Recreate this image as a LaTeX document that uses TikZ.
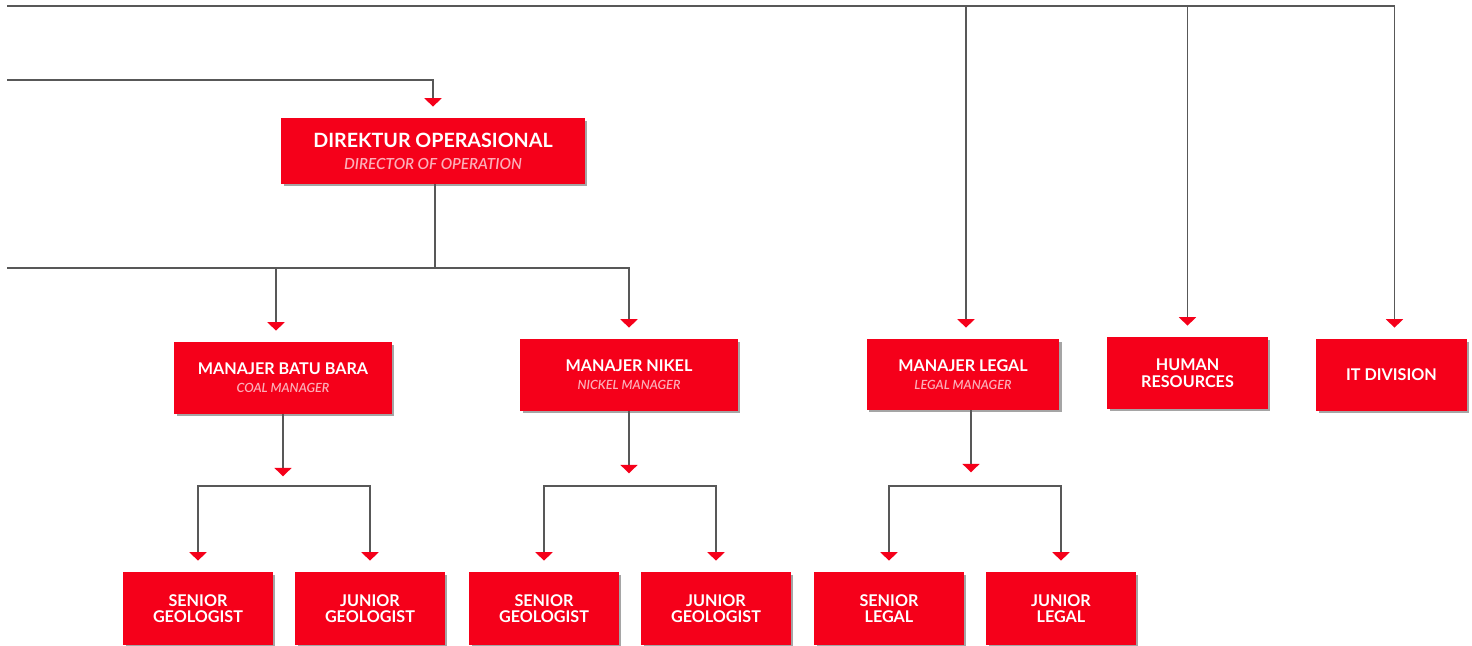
\documentclass[tikz,border=0pt]{standalone}
\usepackage{fontspec}
\setmainfont{Lato}
\newfontfamily\sublight{Lato}[UprightFont=* Light, ItalicFont=* Light Italic]
\usepackage{tikz}
\usetikzlibrary{arrows.meta, positioning, shadows}
\definecolor{boxred}{RGB}{245, 0, 26}
\definecolor{wiregray}{RGB}{88, 88, 88}
\definecolor{subpink}{RGB}{252, 175, 185}
\definecolor{shadowgray}{RGB}{165, 165, 165}
\newcommand{\rolesub}[2][7.2]{{\fontsize{#1}{#1}\sublight\itshape\textcolor{subpink}{#2}}}

\begin{document}
\begin{tikzpicture}[x=0.02cm, y=-0.02cm,
    every node/.style={text=white, font=\fontsize{9.2}{9.4}\selectfont\bfseries},
    rolebox/.style={fill=boxred, align=center, inner sep=2pt,
        drop shadow={shadow xshift=0.05cm, shadow yshift=-0.05cm, fill=shadowgray, opacity=1}},
    wire/.style={draw=wiregray, line width=1.1pt},
    tip/.style={-{Triangle[width=0.34cm, length=0.17cm, color=boxred]}},
    feed/.style={wire, tip, shorten >=0.22cm}]
    \useasboundingbox (0,0) rectangle (1472,646);

    % Director
    \node[rolebox, minimum width=6.08cm, minimum height=1.32cm,
        font=\fontsize{11.2}{11.6}\selectfont\bfseries] (dir) at (433,151)
        {DIREKTUR OPERASIONAL\\[1pt] \rolesub[8.7]{DIRECTOR OF OPERATION}};

    % Managers and divisions
    \node[rolebox, minimum width=4.36cm, minimum height=1.44cm] (bb) at (283,378)
        {MANAJER BATU BARA\\[1pt] \rolesub{COAL MANAGER}};
    \node[rolebox, minimum width=4.36cm, minimum height=1.44cm] (nk) at (629,375)
        {MANAJER NIKEL\\[1pt] \rolesub{NICKEL MANAGER}};
    \node[rolebox, minimum width=3.86cm, minimum height=1.42cm] (lg) at (963,374.5)
        {MANAJER LEGAL\\[1pt] \rolesub{LEGAL MANAGER}};
    \node[rolebox, minimum width=3.22cm, minimum height=1.44cm] (hr) at (1187.5,373)
        {HUMAN\\RESOURCES};
    \node[rolebox, minimum width=3.02cm, minimum height=1.44cm] (it) at (1391.5,375)
        {IT DIVISION};

    % Staff
    \foreach \nm/\x/\lab in {sg1/198/SENIOR\\GEOLOGIST, jg1/370/JUNIOR\\GEOLOGIST,
            sg2/544/SENIOR\\GEOLOGIST, jg2/716/JUNIOR\\GEOLOGIST,
            sl/889/SENIOR\\LEGAL, jl/1061/JUNIOR\\LEGAL}
        \node[rolebox, minimum width=3cm, minimum height=1.46cm] (\nm) at (\x,608.5) {\lab};

    % Lines from the left
    \coordinate (topleft) at (7,6);
    \coordinate (dirleft) at (7,80);
    \coordinate (opsleft) at (7,268);
    \draw[feed] (topleft) -| ([xshift=0.06cm]lg.north);
    \draw[feed] (topleft) -| (hr);
    \draw[feed] (topleft) -| ([xshift=0.06cm]it.north);
    \draw[feed] (dirleft) -| (dir);

    % Director to managers
    \draw[wire] ([xshift=0.04cm]dir.south) -- ([xshift=0.04cm]dir.south |- opsleft);
    \draw[feed] (opsleft) -| ([xshift=-0.14cm]bb.north);
    \draw[feed] (opsleft) -| (nk);

    % Managers to staff
    \foreach \m/\dx in {bb/0, nk/0, lg/0.16}
        {\draw[wire, tip] ([xshift=\dx cm]\m.south) -- ++(0,62);}
    \coordinate (bbfork) at (284,486);
    \coordinate (nkfork) at (630,486);
    \coordinate (lgfork) at (972,486);
    \draw[feed] (bbfork) -| (sg1);
    \draw[feed] (bbfork) -| (jg1);
    \draw[feed] (nkfork) -| (sg2);
    \draw[feed] (nkfork) -| (jg2);
    \draw[feed] (lgfork) -| (sl);
    \draw[feed] (lgfork) -| (jl);
\end{tikzpicture}
\end{document}
